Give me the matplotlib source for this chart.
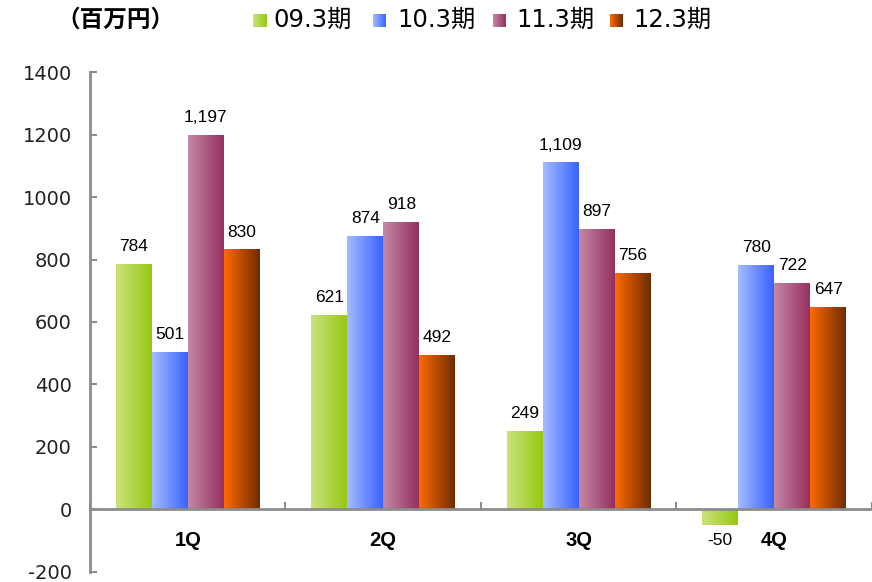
import numpy as np
import matplotlib
matplotlib.use("Agg")
import matplotlib.pyplot as plt
from matplotlib.colors import LinearSegmentedColormap

plt.rcParams["axes.unicode_minus"] = False

# data (百万円)
quarters = ["1Q", "2Q", "3Q", "4Q"]
series_names = ["09.3期", "10.3期", "11.3期", "12.3期"]
fy09 = [784, 621, 249, -50]
fy10 = [501, 874, 1109, 780]
fy11 = [1197, 918, 897, 722]
fy12 = [830, 492, 756, 647]
values = [fy09, fy10, fy11, fy12]

# left -> right gradient colors for each series
grad_colors = [
    ("#cbe27c", "#96c812"),
    ("#a4bcff", "#3a62ff"),
    ("#c588a6", "#95305f"),
    ("#ff6a00", "#6e2c00"),
]
cmaps = [LinearSegmentedColormap.from_list("g%d" % i, c) for i, c in enumerate(grad_colors)]
ramp = np.linspace(0, 1, 256)[None, :]

fig = plt.figure(figsize=(8.72, 5.82), dpi=100)
ax = fig.add_axes([0.1032, 0.0177, 0.8968, 0.8581])

axis_gray = "#8c8c8c"

# spines first (set_position resets the ticks)
ax.spines["top"].set_visible(False)
ax.spines["right"].set_visible(False)
ax.spines["bottom"].set_position(("data", 0))
for s in ("left", "bottom"):
    ax.spines[s].set_color(axis_gray)
    ax.spines[s].set_linewidth(2)
ax.spines["bottom"].set_zorder(3)

x = np.arange(len(quarters))
bw = 0.184
offsets = (np.arange(4) - 1.5) * bw

for i, vals in enumerate(values):
    bars = ax.bar(x + offsets[i], vals, bw, facecolor="none", edgecolor="none", zorder=2)
    for rect, v in zip(bars, vals):
        x0, y0 = rect.get_x(), rect.get_y()
        w, h = rect.get_width(), rect.get_height()
        ax.imshow(ramp, cmap=cmaps[i], extent=[x0, x0 + w, y0, y0 + h],
                  aspect="auto", interpolation="bilinear", zorder=2)
        txt = "{:,}".format(v) if abs(v) >= 1000 else str(v)
        if v >= 0:
            ax.annotate(txt, (x0 + w / 2, v), xytext=(0, 7.5), textcoords="offset points",
                        ha="center", va="bottom", fontsize=12.5, family="Liberation Sans")
        else:
            ax.annotate(txt, (x0 + w / 2, v), xytext=(0, -6), textcoords="offset points",
                        ha="center", va="top", fontsize=12.5, family="Liberation Sans")

ax.set_xlim(-0.5, 3.5)
ax.set_ylim(-200, 1400)
ax.set_yticks(np.arange(-200, 1401, 200))
ax.set_xticks(x)
ax.set_xticklabels(quarters, fontsize=14.5, fontweight="bold", family="Liberation Sans")
ax.set_xticks(np.arange(-0.5, 3.6, 1.0), minor=True)
ax.tick_params(axis="x", which="major", length=0, pad=15.5)
ax.tick_params(axis="x", which="minor", direction="in", length=5, width=1.5, color=axis_gray)
ax.tick_params(axis="y", direction="in", length=5, width=1.5, color=axis_gray, pad=13,
               labelsize=14, labelcolor="#222222")
for lab in ax.get_yticklabels():
    lab.set_family("DejaVu Sans")

# unit label and legend at the top
fig.text(56 / 872, 1 - 20 / 582, "（百万円）", fontsize=17, fontweight="bold",
         family=["Noto Sans CJK JP"], ha="left", va="center")

sw_x = [253, 373, 493, 610]
tx_x = [273, 397, 516, 633]
for i, name in enumerate(series_names):
    sax = fig.add_axes([sw_x[i] / 872, 1 - 27 / 582, 13 / 872, 13 / 582])
    sax.imshow(ramp, cmap=cmaps[i], aspect="auto", interpolation="bilinear")
    sax.axis("off")
    fig.text(tx_x[i] / 872, 1 - 20 / 582, name, fontsize=17.5,
             family=["DejaVu Sans", "Noto Sans CJK JP"], ha="left", va="center")

fig.savefig("out.png", dpi=100)
